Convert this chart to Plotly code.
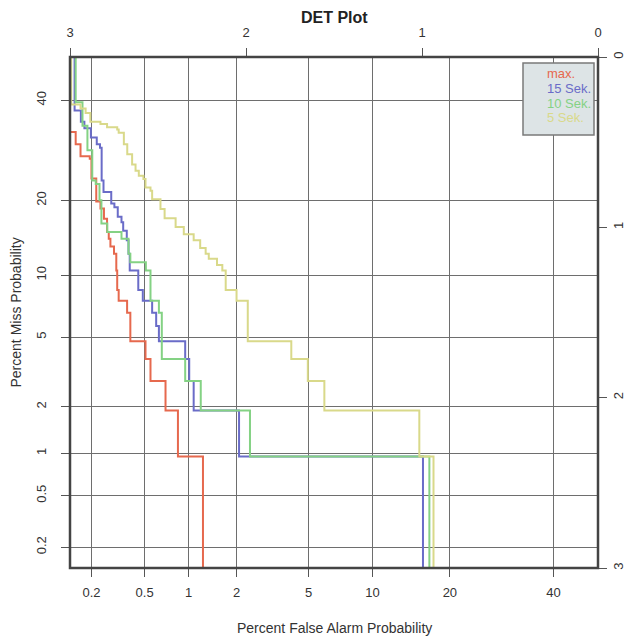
from statistics import NormalDist
import plotly.graph_objects as go

# DET curves: false alarm rate (%) where each step drops, and the miss rate (%) after the drop
max_fa = [0.10, 0.150, 0.164, 0.194, 0.200, 0.218, 0.235, 0.250, 0.264, 0.272, 0.280, 0.298,
          0.310, 0.315, 0.323, 0.373, 0.394, 0.507, 0.550, 0.700, 0.850, 1.24]
max_miss = [33.0, 30.4, 28.0, 27.5, 23.8, 19.8, 18.7, 17.1, 15.2, 14.3, 13.3, 12.4,
            10.5, 8.57, 7.62, 6.67, 4.76, 3.81, 2.86, 1.90, 0.95, 0.01]

sek15_fa = [0.147, 0.147, 0.165, 0.176, 0.198, 0.220, 0.233, 0.240, 0.248, 0.284, 0.300, 0.318,
            0.339, 0.349, 0.371, 0.382, 0.390, 0.450, 0.485, 0.565, 0.603, 0.630, 0.950, 1.010,
            1.080, 2.070, 16.0]
sek15_miss = [60.0, 37.7, 35.2, 33.8, 31.8, 30.4, 29.7, 23.4, 21.4, 19.5, 18.9, 17.4,
              16.6, 15.4, 14.1, 12.4, 10.5, 8.57, 7.62, 6.67, 5.71, 4.76, 3.81, 2.86,
              1.90, 0.95, 0.01]

sek10_fa = [0.150, 0.150, 0.170, 0.186, 0.203, 0.216, 0.231, 0.239, 0.265, 0.339, 0.382, 0.394,
            0.510, 0.550, 0.630, 0.660, 0.950, 1.200, 2.400, 16.9]
sek10_miss = [60.0, 39.5, 34.3, 29.2, 23.4, 22.8, 20.0, 16.4, 15.2, 14.3, 12.4, 11.4,
              10.5, 7.62, 6.67, 3.81, 2.86, 1.90, 0.95, 0.01]

sek5_fa = [0.138, 0.138, 0.164, 0.180, 0.196, 0.235, 0.264, 0.315, 0.323, 0.353, 0.374, 0.406,
           0.430, 0.454, 0.490, 0.507, 0.550, 0.565, 0.646, 0.690, 0.820, 0.930, 1.080, 1.190,
           1.290, 1.350, 1.520, 1.640, 1.720, 2.000, 2.330, 4.070, 4.960, 6.000, 15.5, 17.5]
sek5_miss = [60.0, 39.0, 38.1, 37.1, 35.2, 34.7, 34.0, 33.5, 32.8, 30.4, 28.4, 26.4,
             25.2, 24.3, 23.7, 22.2, 21.6, 20.2, 18.6, 17.2, 15.9, 14.9, 14.1, 13.1,
             12.4, 11.8, 11.1, 10.5, 8.57, 7.62, 4.76, 3.81, 2.86, 1.90, 0.95, 0.01]

series_names = ["max.", "15 Sek.", "10 Sek.", "5 Sek."]
series_colors = ["#e6694e", "#6a6cc8", "#84d284", "#d9d98a"]

# axis tick labels
pct_ticks = [0.2, 0.5, 1, 2, 5, 10, 20, 40]
pct_labels = ["0.2", "0.5", "1", "2", "5", "10", "20", "40"]
dev_ticks = [-3, -2, -1, 0]
dev_labels = ["3", "2", "1", "0"]

nd = NormalDist()


def probit(pct):
    return nd.inv_cdf(pct / 100.0)


FONT = "Liberation Sans, Arial, sans-serif"
GRID = "#6e6e6e"
TXT = "#333333"

# plot area in pixels
L, R, T, B = 70, 29, 57, 69
W, H = 627 - L - R, 637 - T - B

fig = go.Figure()
curves = [(max_fa, max_miss), (sek15_fa, sek15_miss), (sek10_fa, sek10_miss), (sek5_fa, sek5_miss)]
for (fa, miss), name, col in zip(curves, series_names, series_colors):
    fig.add_trace(go.Scatter(
        x=[probit(v) for v in fa], y=[probit(v) for v in miss],
        mode="lines", name=name, line=dict(color=col, width=2, shape="hv"),
        showlegend=False, hoverinfo="skip"))

# carrier trace for the secondary (normal deviate) axes
fig.add_trace(go.Scatter(x=[-3, 0], y=[-3, 0], xaxis="x2", yaxis="y2", mode="markers",
                         marker=dict(opacity=0), showlegend=False, hoverinfo="skip"))

common = dict(range=[-3, 0], ticks="outside", ticklen=8, tickcolor="#555555", tickwidth=1,
              zeroline=False, showline=False, automargin=False,
              tickfont=dict(family=FONT, size=13, color=TXT))

fig.update_layout(
    width=627, height=637,
    margin=dict(l=L, r=R, t=T, b=B, autoexpand=False),
    paper_bgcolor="white", plot_bgcolor="white",
    xaxis=dict(**common, tickvals=[probit(v) for v in pct_ticks], ticktext=pct_labels,
               showgrid=True, gridcolor=GRID, gridwidth=1, ticklabelstandoff=4),
    yaxis=dict(**common, tickvals=[probit(v) for v in pct_ticks], ticktext=pct_labels,
               showgrid=True, gridcolor=GRID, gridwidth=1, tickangle=-90, ticklabelstandoff=10),
    xaxis2=dict(**common, overlaying="x", side="top", tickvals=dev_ticks, ticktext=dev_labels,
                showgrid=False, ticklabelstandoff=6),
    yaxis2=dict(**common, overlaying="y", side="right", tickvals=dev_ticks, ticktext=dev_labels,
                showgrid=False, tickangle=-90, ticklabelstandoff=0),
    shapes=[
        dict(type="rect", xref="paper", yref="paper", x0=0, x1=1, y0=0, y1=1,
             line=dict(color="#444444", width=2.5), layer="above"),
        dict(type="rect", xref="paper", yref="paper",
             x0=(523 - L) / W, x1=(594 - L) / W, y0=1 - (135 - T) / H, y1=1 - (63 - T) / H,
             line=dict(color="#7a7a7a", width=1.5), fillcolor="#dde4e6", layer="above"),
    ],
    annotations=[
        dict(text="<b>DET Plot</b>", x=(334 - L) / W, xref="paper", y=1 + (T - 17) / H,
             yref="paper", yanchor="middle", showarrow=False,
             font=dict(family=FONT, size=16, color="#222222")),
        dict(text="Percent False Alarm Probability", x=(334 - L) / W, xref="paper",
             y=-(628 - (T + H)) / H, yref="paper", yanchor="middle", showarrow=False,
             font=dict(family=FONT, size=14, color=TXT)),
        dict(text="Percent Miss Probability", x=(15 - L) / W, xref="paper", xanchor="center",
             y=0.5, yref="paper", showarrow=False, textangle=-90,
             font=dict(family=FONT, size=14, color=TXT)),
    ],
)

# legend entries as coloured text inside a box
for i, (name, col) in enumerate(zip(series_names, series_colors)):
    fig.add_annotation(text=name, xref="paper", yref="paper", x=(545 - L) / W, xanchor="left",
                       y=1 - (74 - T + i * 14.5) / H, yanchor="middle", showarrow=False,
                       font=dict(family=FONT, size=13, color=col))

fig.write_html("out.html")
